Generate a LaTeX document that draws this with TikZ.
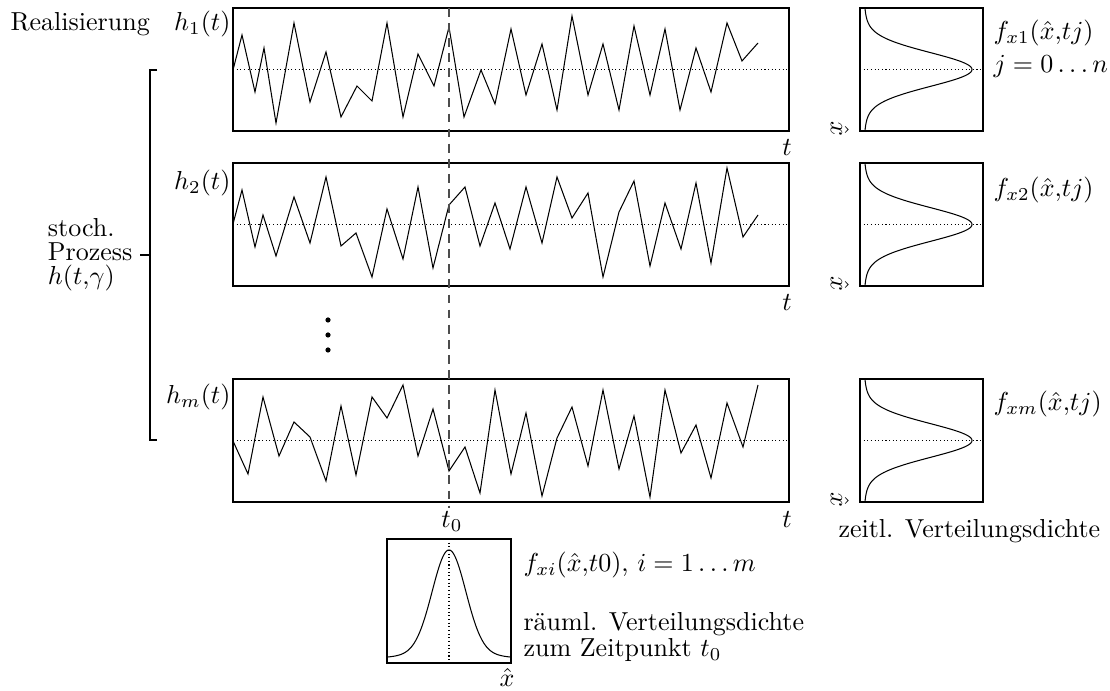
\documentclass[tikz,border=0pt]{standalone}
\usepackage{fontspec}
\begin{document}
\begin{tikzpicture}[x=0.3846pt,y=-0.3846pt,
  frame/.style={draw, line width=0.4pt},
  sig/.style={line width=0.4pt, line join=miter},
  midline/.style={densely dotted, line width=0.4pt},
  tline/.style={line width=0.4pt, draw=black!70, dash pattern=on 3.4pt off 2.4pt},
  brk/.style={line width=0.4pt},
  lbl/.style={inner sep=0pt, anchor=base west},
  lblr/.style={inner sep=0pt, anchor=base east},
  lblc/.style={inner sep=0pt, anchor=base},
  declare function={gs(\d)=103*exp(-(\d*\d)/560)+6*exp(-(\d*\d)/3200);}]
\useasboundingbox (0,0) rectangle (1110,691);

% ---- signal boxes
\draw[frame] (233,8) rectangle (789,131);
\draw[frame] (233,163) rectangle (789,286);
\draw[frame] (233,379) rectangle (789,502);
\draw[midline] (233,69.5) -- (789,69.5);
\draw[midline] (233,224.5) -- (789,224.5);
\draw[midline] (233,440.5) -- (789,440.5);

% ---- signals
\draw[sig] (233,70) -- (242,35) -- (255,92) -- (264,48) -- (276,123) -- (294,23) -- (310,102) -- (326,52) -- (341,117) -- (357,86) -- (372,101) -- (387,23) -- (403,117) -- (418,54) -- (434,86) -- (449,27) -- (464,117) -- (481,70) -- (495,104) -- (511,29) -- (526,95) -- (542,44) -- (557,110) -- (572,16) -- (588,95) -- (603,44) -- (619,110) -- (634,26) -- (650,95) -- (665,29) -- (680,110) -- (696,48) -- (711,92) -- (727,23) -- (742,61) -- (758,43);
\draw[sig] (233,224) -- (242,190) -- (255,247) -- (263,215) -- (276,256) -- (294,197) -- (310,243) -- (326,177) -- (341,246) -- (356,233) -- (372,277) -- (387,209) -- (403,259) -- (418,187) -- (433,268) -- (449,205) -- (465,187) -- (480,246) -- (495,203) -- (510,249) -- (526,187) -- (542,243) -- (557,177) -- (572,218) -- (588,193) -- (603,277) -- (619,212) -- (634,181) -- (650,266) -- (665,203) -- (681,249) -- (696,183) -- (711,263) -- (727,168) -- (743,237) -- (758,215);
\draw[sig] (233,441) -- (248,474) -- (263,397) -- (279,456) -- (294,422) -- (310,437) -- (326,481) -- (341,406) -- (356,475) -- (372,397) -- (387,418) -- (403,385) -- (418,456) -- (433,409) -- (449,471) -- (465,447) -- (480,493) -- (495,390) -- (511,474) -- (526,413) -- (542,496) -- (557,438) -- (572,407) -- (588,466) -- (603,390) -- (619,469) -- (634,416) -- (650,497) -- (665,390) -- (681,453) -- (696,425) -- (711,478) -- (727,403) -- (743,447) -- (758,385);

% ---- time instant t0
\coordinate (ttop) at (449,8);
\coordinate (tbot) at (449,508);
\draw[tline] (ttop) -- (tbot);
\node[lblc] (t0) at (452,528) {$t_0$};

% ---- t labels
\node[lblc] (ta) at (787,156) {$t$};
\node[lblc] (tb) at (787,311) {$t$};
\node[lblc] (tc) at (787,528) {$t$};

% ---- row labels
\node[lbl] (real) at (10,31) {Realisierung};
\node[lblr] (h1) at (231,31) {$h_1(t)$};
\node[lblr] (h2) at (231,190) {$h_2(t)$};
\node[lblr] (hm) at (231,404) {$h_m(t)$};

% ---- dots
\fill (328,320) circle[radius=2.6];
\fill (328,335) circle[radius=2.6];
\fill (328,350) circle[radius=2.6];

% ---- bracket
\coordinate (bk) at (150,255);
\draw[brk] (157,70) -- (150,70) -- (150,440) -- (157,440);
\node[anchor=east, align=left, inner xsep=2.7pt, inner ysep=0pt] (sp) at (140,255)
  {stoch.\\[-2.8pt]Prozess\\[-2.8pt]$h(t{,}\gamma)$};
\draw[brk] (sp.east) -- (bk);

% ---- right density boxes
\draw[frame] (860,8) rectangle (983,131);
\draw[frame] (860,163) rectangle (983,286);
\draw[frame] (860,379) rectangle (983,502);
\draw[midline] (860,69.5) -- (983,69.5);
\draw[midline] (860,224.5) -- (983,224.5);
\draw[midline] (860,440.5) -- (983,440.5);
\draw[sig] plot[domain=-61.5:61.5, samples=123, smooth] ({863+gs(\x)},{69.5+\x});
\draw[sig] plot[domain=-61.5:61.5, samples=123, smooth] ({863+gs(\x)},{224.5+\x});
\draw[sig] plot[domain=-61.5:61.5, samples=123, smooth] ({863+gs(\x)},{440.5+\x});
\node[rotate=-90, inner sep=0pt] (xa) at (840,129) {$\hat{x}$};
\node[rotate=-90, inner sep=0pt] (xb) at (840,284) {$\hat{x}$};
\node[rotate=-90, inner sep=0pt] (xc) at (840,500) {$\hat{x}$};
\node[lbl] (f1) at (993,40) {$f_{x1}(\hat{x}{,}tj)$};
\node[lbl] (jn) at (993,73) {$j=0\ldots n$};
\node[lbl] (f2) at (993,197) {$f_{x2}(\hat{x}{,}tj)$};
\node[lbl] (fm) at (993,411) {$f_{xm}(\hat{x}{,}tj)$};
\node[lbl] (zeit) at (838,538) {zeitl. Verteilungsdichte};

% ---- bottom density box
\draw[frame] (387,539) rectangle (511,663);
\draw[midline] (449,539) -- (449,663);
\draw[sig] plot[domain=-62:62, samples=125, smooth] ({449+\x},{659-gs(\x)});
\node[lblc] (xh) at (507,687) {$\hat{x}$};
\node[lbl] (fi) at (523,572) {$f_{xi}(\hat{x}{,}t0)$, $i=1\ldots m$};
\node[lbl] (r1) at (523,631) {räuml. Verteilungsdichte};
\node[lbl] (r2) at (523,657) {zum Zeitpunkt $t_0$};
\end{tikzpicture}
\end{document}
